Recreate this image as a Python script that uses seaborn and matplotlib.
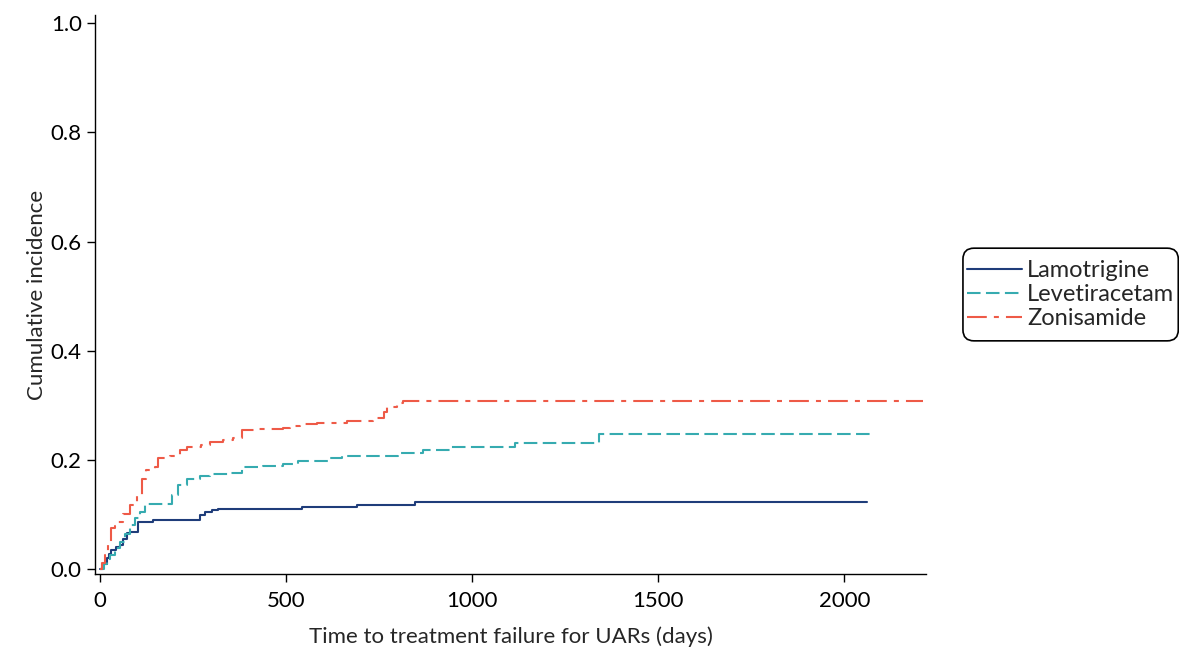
import pandas as pd
import seaborn as sns
import matplotlib.pyplot as plt
from matplotlib.patches import FancyBboxPatch
from matplotlib.transforms import IdentityTransform

# Cumulative incidence step curves
lam_days = [0, 8, 18, 25, 31, 42, 54, 63, 72, 80, 90, 103, 142, 269, 282, 300, 318, 349,
            542, 690, 847, 2060]
lam_inc = [0, 0.010, 0.020, 0.028, 0.035, 0.040, 0.044, 0.055, 0.066, 0.068, 0.069, 0.087,
           0.090, 0.100, 0.105, 0.109, 0.111, 0.111, 0.114, 0.117, 0.123, 0.123]

lev_days = [0, 10, 20, 27, 40, 54, 68, 81, 95, 108, 121, 161, 193, 211, 233, 269, 296, 349,
            381, 439, 493, 533, 614, 650, 802, 869, 941, 1116, 1342, 2080]
lev_inc = [0, 0.010, 0.018, 0.026, 0.038, 0.050, 0.065, 0.081, 0.093, 0.105, 0.119, 0.120,
           0.136, 0.154, 0.166, 0.170, 0.175, 0.177, 0.187, 0.189, 0.193, 0.199, 0.203,
           0.207, 0.212, 0.218, 0.223, 0.231, 0.247, 0.247]

zon_days = [0, 6, 13, 22, 31, 40, 49, 63, 81, 99, 112, 125, 148, 157, 188, 215, 233, 273,
            296, 331, 358, 381, 421, 493, 511, 538, 582, 663, 735, 762, 771, 798, 815, 2210]
zon_inc = [0, 0.012, 0.026, 0.050, 0.075, 0.080, 0.087, 0.102, 0.117, 0.136, 0.166, 0.181,
           0.187, 0.203, 0.207, 0.219, 0.223, 0.227, 0.233, 0.236, 0.240, 0.254, 0.256,
           0.259, 0.262, 0.265, 0.268, 0.271, 0.277, 0.288, 0.297, 0.305, 0.308, 0.308]

drugs = ["Lamotrigine", "Levetiracetam", "Zonisamide"]
x_ticks = [0, 500, 1000, 1500, 2000]
y_ticks = [0.0, 0.2, 0.4, 0.6, 0.8, 1.0]

# ---------------------------------------
# Build one long table for seaborn
# ---------------------------------------
frames = []
for name, days, inc in zip(drugs, [lam_days, lev_days, zon_days], [lam_inc, lev_inc, zon_inc]):
    frames.append(pd.DataFrame({"time": days, "incidence": inc, "drug": name}))
curves = pd.concat(frames, ignore_index=True)

sns.set_style("ticks")
plt.rcParams["font.family"] = ["Lato", "DejaVu Sans"]

palette = {"Lamotrigine": "#1f3d7a", "Levetiracetam": "#36abb0", "Zonisamide": "#ee5a47"}
dashes = {"Lamotrigine": "", "Levetiracetam": (6.5, 2.6), "Zonisamide": (9.5, 3.4, 2.4, 3.4)}

fs = 16
fig = plt.figure(figsize=(11.79, 6.48), dpi=100)
ax = fig.add_axes([0.0806, 0.114, 0.705, 0.863])

sns.lineplot(data=curves, x="time", y="incidence", hue="drug", style="drug",
             palette=palette, dashes=dashes, estimator=None, drawstyle="steps-post",
             linewidth=1.5, ax=ax)

ax.set_xlim(-13, 2220)
ax.set_ylim(-0.009, 1.015)
ax.set_xticks(x_ticks)
ax.set_yticks(y_ticks)
ax.set_yticklabels([f"{v:.1f}" for v in y_ticks])
ax.tick_params(labelsize=fs, length=6, width=1, colors="black")
ax.tick_params(axis="x", pad=6)
ax.set_xlabel("Time to treatment failure for UARs (days)", fontsize=fs, labelpad=11)
ax.set_ylabel("Cumulative incidence", fontsize=fs, labelpad=3)
for s in ["left", "bottom"]:
    ax.spines[s].set_color("black")
    ax.spines[s].set_linewidth(1)
sns.despine(ax=ax)

# legend without its own frame, then a rounded box with more vertical room
leg = ax.legend(loc="center left", bbox_to_anchor=(1.049, 0.5), fontsize=17,
                frameon=False, handlelength=2.35, borderpad=0, labelspacing=0.12,
                handletextpad=0.2, borderaxespad=0)
leg.set_zorder(10)
fig.canvas.draw()
bb = leg.get_window_extent()
pad_x, pad_y = 4, 12
frame = FancyBboxPatch((bb.x0 - pad_x, bb.y0 - pad_y), bb.width + 2 * pad_x, bb.height + 2 * pad_y,
                       boxstyle="round,pad=0,rounding_size=11", transform=IdentityTransform(),
                       facecolor="white", edgecolor="black", linewidth=1.2, zorder=9,
                       clip_on=False)
ax.add_artist(frame)

fig.savefig("out.png", dpi=100)
